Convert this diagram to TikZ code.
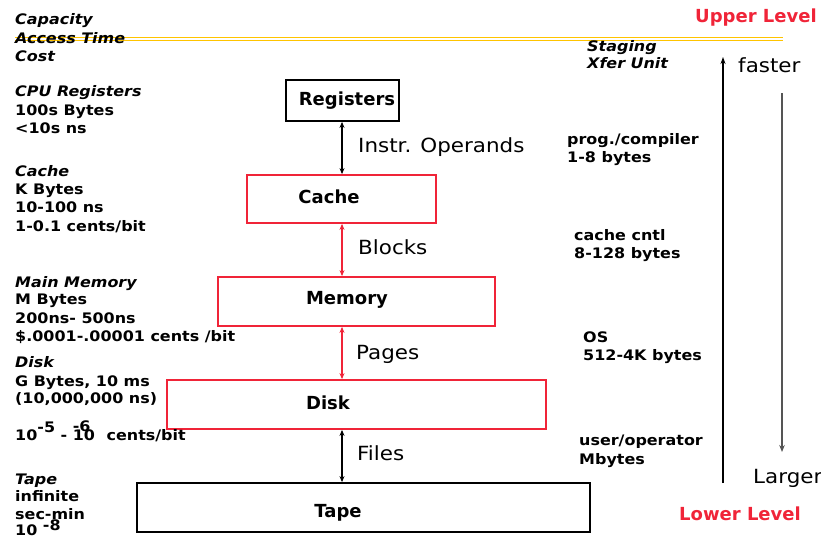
\documentclass[tikz,border=0pt]{standalone}
\usepackage{fontspec}
\setmainfont{DejaVu Sans}
\newfontfamily\widefont{DejaVu Sans}[FakeStretch=1.1]
\usetikzlibrary{arrows.meta}
\definecolor{hred}{RGB}{240,36,56}
\definecolor{gold}{RGB}{255,196,0}
\definecolor{dgray}{RGB}{85,85,85}
\begin{document}
\begin{tikzpicture}[x=1pt,y=-1pt,
  lab/.style={anchor=base west, inner sep=0pt, font=\widefont\fontsize{14.5}{16}\selectfont\bfseries},
  labi/.style={anchor=base west, inner sep=0pt, font=\widefont\fontsize{14.5}{16}\selectfont\bfseries\itshape},
  boxtext/.style={inner sep=0pt, font=\fontsize{18}{20}\selectfont\bfseries},
  arrlab/.style={anchor=base west, inner sep=0pt, font=\widefont\fontsize{19.5}{21}\selectfont},
  lvl/.style={anchor=base west, inner sep=0pt, text=hred, font=\fontsize{18}{20}\selectfont\bfseries},
  blackbox/.style={draw=black, line width=1.8pt, inner sep=0pt},
  redbox/.style={draw=hred, line width=1.8pt, inner sep=0pt},
  barr/.style={line width=1.2pt, {Stealth[length=6pt,width=5pt]}-{Stealth[length=6pt,width=5pt]}},
  rarr/.style={hred, line width=1.2pt, {Stealth[length=6pt,width=5pt]}-{Stealth[length=6pt,width=5pt]}}
]
\useasboundingbox (0,0) rectangle (821,538);

% yellow double line
\coordinate (ya) at (15,37.5);
\coordinate (yb) at (783,37.5);
\coordinate (yc) at (15,40.8);
\coordinate (yd) at (783,40.8);
\draw[gold, line width=1.3pt] (ya) -- (yb);
\draw[gold, line width=1.3pt] (yc) -- (yd);

% boxes
\node[blackbox, minimum width=113pt, minimum height=41pt] (reg) at (342.5,100.5) {};
\node[redbox, minimum width=189pt, minimum height=48pt] (cache) at (341.5,199) {};
\node[redbox, minimum width=277pt, minimum height=49pt] (mem) at (356.5,301.5) {};
\node[redbox, minimum width=379pt, minimum height=49pt] (disk) at (356.5,404.5) {};
\node[blackbox, minimum width=453pt, minimum height=49pt] (tape) at (363.5,507.5) {};

\node[boxtext] (regT) at (347,101) {Registers};
\node[boxtext] (cacheT) at (329,197) {Cache};
\node[boxtext] (memT) at (347,300) {Memory};
\node[boxtext] (diskT) at (328,403) {Disk};
\node[boxtext] (tapeT) at (338,513) {Tape};

% vertical arrows between levels
\coordinate (ax) at (342,0);
\draw[barr] (reg.south -| ax) -- (cache.north -| ax);
\draw[rarr] (cache.south -| ax) -- (mem.north -| ax);
\draw[rarr] (mem.south -| ax) -- (disk.north -| ax);
\draw[barr] (disk.south -| ax) -- (tape.north -| ax);

\node[arrlab] (l_io) at (358,152) {Instr. Operands};
\node[arrlab] (l_bl) at (358,254) {Blocks};
\node[arrlab] (l_pg) at (356,359) {Pages};
\node[arrlab] (l_fi) at (357,460) {Files};

% left column
\node[labi] (c1) at (15,24) {Capacity};
\node[labi] (c2) at (15,43) {Access Time};
\node[labi] (c3) at (15,61) {Cost};

\node[labi] (r1) at (15,96) {CPU Registers};
\node[lab] (r2) at (15,115) {100s Bytes};
\node[lab] (r3) at (15,133) {<10s ns};

\node[labi] (k1) at (15,176) {Cache};
\node[lab] (k2) at (15,194) {K Bytes};
\node[lab] (k3) at (15,212) {10-100 ns};
\node[lab] (k4) at (15,231) {1-0.1 cents/bit};

\node[labi] (m1) at (15,287) {Main Memory};
\node[lab] (m2) at (15,304) {M Bytes};
\node[lab] (m3) at (15,323) {200ns- 500ns};
\node[lab] (m4) at (15,341) {\$.0001-.00001 cents /bit};

\node[labi] (d1) at (15,367) {Disk};
\node[lab] (d2) at (15,386) {G Bytes, 10 ms};
\node[lab] (d3) at (15,403) {(10,000,000 ns)};
\node[lab] (d4) at (15,440) {10\raisebox{8pt}{-5} - \rlap{\raisebox{9pt}{-6}}10\hspace{0.8em}cents/bit};

\node[labi] (t1) at (15,484) {Tape};
\node[lab] (t2) at (15,501) {infinite};
\node[lab] (t3) at (15,519) {sec-min};
\node[lab] (t4) at (15,535) {10 \raisebox{4.5pt}{-8}};

% right column
\node[labi] (s1) at (587,51) {Staging};
\node[labi] (s2) at (587,68) {Xfer Unit};
\node[lab] (p1) at (567,144) {prog./compiler};
\node[lab] (p2) at (567,162) {1-8 bytes};
\node[lab] (q1) at (574,240) {cache cntl};
\node[lab] (q2) at (574,258) {8-128 bytes};
\node[lab] (o1) at (583,342) {OS};
\node[lab] (o2) at (583,360) {512-4K bytes};
\node[lab] (u1) at (579,445) {user/operator};
\node[lab] (u2) at (579,464) {Mbytes};

% levels
\node[lvl] (up) at (695,22) {Upper Level};
\node[lvl] (low) at (679,520) {Lower Level};

% side arrows
\coordinate (fa) at (723,483);
\coordinate (fb) at (723,57);
\draw[line width=1.2pt, -{Stealth[length=7pt,width=5pt]}] (fa) -- (fb);
\coordinate (la) at (782,93);
\coordinate (lb) at (782,452);
\draw[dgray, line width=1.6pt, -{Stealth[length=7pt,width=5.5pt]}] (la) -- (lb);
\node[arrlab] (fast) at (738,72) {faster};
\node[arrlab] (larg) at (753,483) {Larger};
\end{tikzpicture}
\end{document}
